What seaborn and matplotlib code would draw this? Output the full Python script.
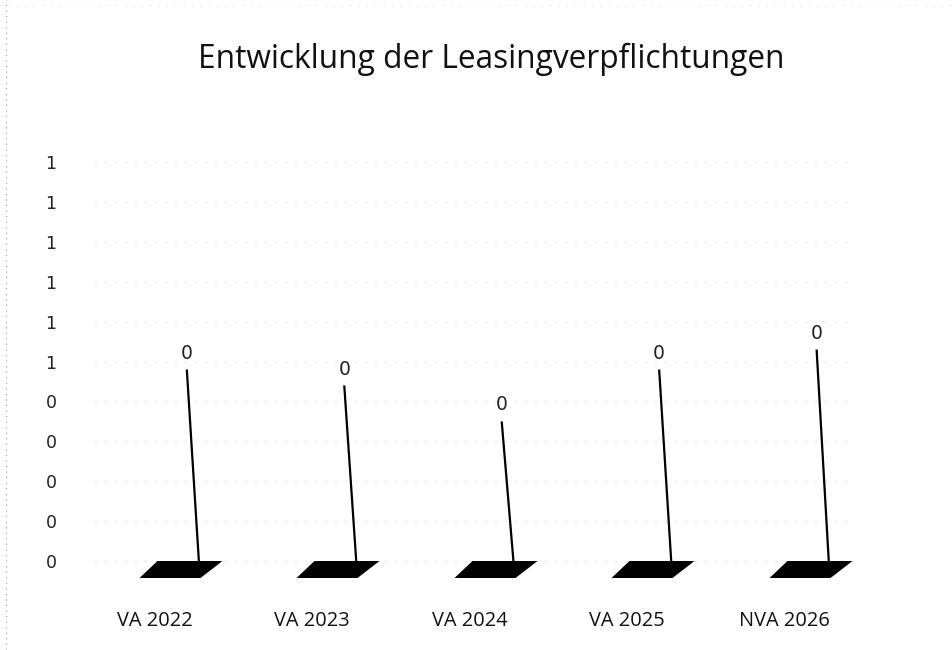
import numpy as np
import pandas as pd
import seaborn as sns
import matplotlib.pyplot as plt
from matplotlib.path import Path
from matplotlib.lines import Line2D

# ---- data ----
title = "Entwicklung der Leasingverpflichtungen"
categories = ["VA 2022", "VA 2023", "VA 2024", "VA 2025", "NVA 2026"]
values = [0.48, 0.44, 0.35, 0.48, 0.53]
data_labels = ["0", "0", "0", "0", "0"]
y_ticks = [0.0, 0.1, 0.2, 0.3, 0.4, 0.5, 0.6, 0.7, 0.8, 0.9, 1.0]
y_tick_labels = ["0", "0", "0", "0", "0", "1", "1", "1", "1", "1", "1"]

sns.set_theme(style="white")
plt.rcParams["font.family"] = ["Open Sans", "DejaVu Sans"]

fig = plt.figure(figsize=(9.52, 6.5), dpi=100)
ax = fig.add_axes([0.0998, 0.1, 0.798, 0.6846])

df = pd.DataFrame({"cat": categories, "value": values, "pos": np.arange(len(categories))})

# 3D-look offsets (style only)
floor_dy = -0.040      # front floor lies slightly below the back axis
base_dx = 0.286        # column foot, x offset
top_dx = 0.203         # column top, x offset
plate_dx = 0.159       # floor plate centre offset
plate_dy = -0.019

# gridlines (faint, dotted like the scan)
for t in y_ticks:
    ax.axhline(t, color="#cfcfcf", lw=0.8, ls=(0, (1, 8)), zorder=0)

# floor plates as parallelogram markers
plate = Path([(-41, -8.5), (20, -8.5), (42, 8.5), (-23, 8.5), (-41, -8.5)],
             [Path.MOVETO, Path.LINETO, Path.LINETO, Path.LINETO, Path.CLOSEPOLY])
sns.scatterplot(x=df["pos"] + plate_dx, y=np.full(len(df), plate_dy), marker=plate,
                s=60.5 ** 2, color="black", edgecolor="black", linewidth=0, ax=ax,
                legend=False, zorder=2)

# thin 3D columns drawn as slanted strokes
for p, v, lab in zip(df["pos"], df["value"], data_labels):
    ax.plot([p + top_dx, p + base_dx], [v, floor_dy], color="black", lw=1.6,
            solid_capstyle="butt", zorder=3)
    ax.annotate(lab, (p + top_dx, v), xytext=(0, 5), textcoords="offset points",
                ha="center", va="bottom", fontsize=13.5, family="DejaVu Sans",
                color="#222222")

ax.set_xlim(-0.38, 4.445)
ax.set_ylim(-0.060, 1.055)
ax.set_xticks(df["pos"])
ax.set_xticklabels(categories, fontsize=14.4, color="#111111")
ax.set_yticks(y_ticks)
ax.set_yticklabels(y_tick_labels, fontsize=12.5, family="DejaVu Sans", color="#222222")
ax.tick_params(axis="x", length=0, pad=19)
ax.tick_params(axis="y", length=0, pad=31.7)
for lab in ax.get_yticklabels():
    lab.set_horizontalalignment("center")
ax.set_xlabel("")
ax.set_ylabel("")
for s in ax.spines.values():
    s.set_visible(False)
ax.grid(False)

fig.text(0.516, 1 - 68 / 650, title, ha="center", va="baseline", fontsize=22.8,
         color="#111111")

# faint dotted chart border (scan)
fig.add_artist(Line2D([0.006, 0.006], [0.0, 1.0], transform=fig.transFigure,
                      color="#999999", lw=0.8, ls=(0, (1, 4))))
fig.add_artist(Line2D([0.0, 1.0], [0.993, 0.993], transform=fig.transFigure,
                      color="#cccccc", lw=0.6, ls=(0, (1, 9))))

fig.savefig("out.png", dpi=100, facecolor="white")
